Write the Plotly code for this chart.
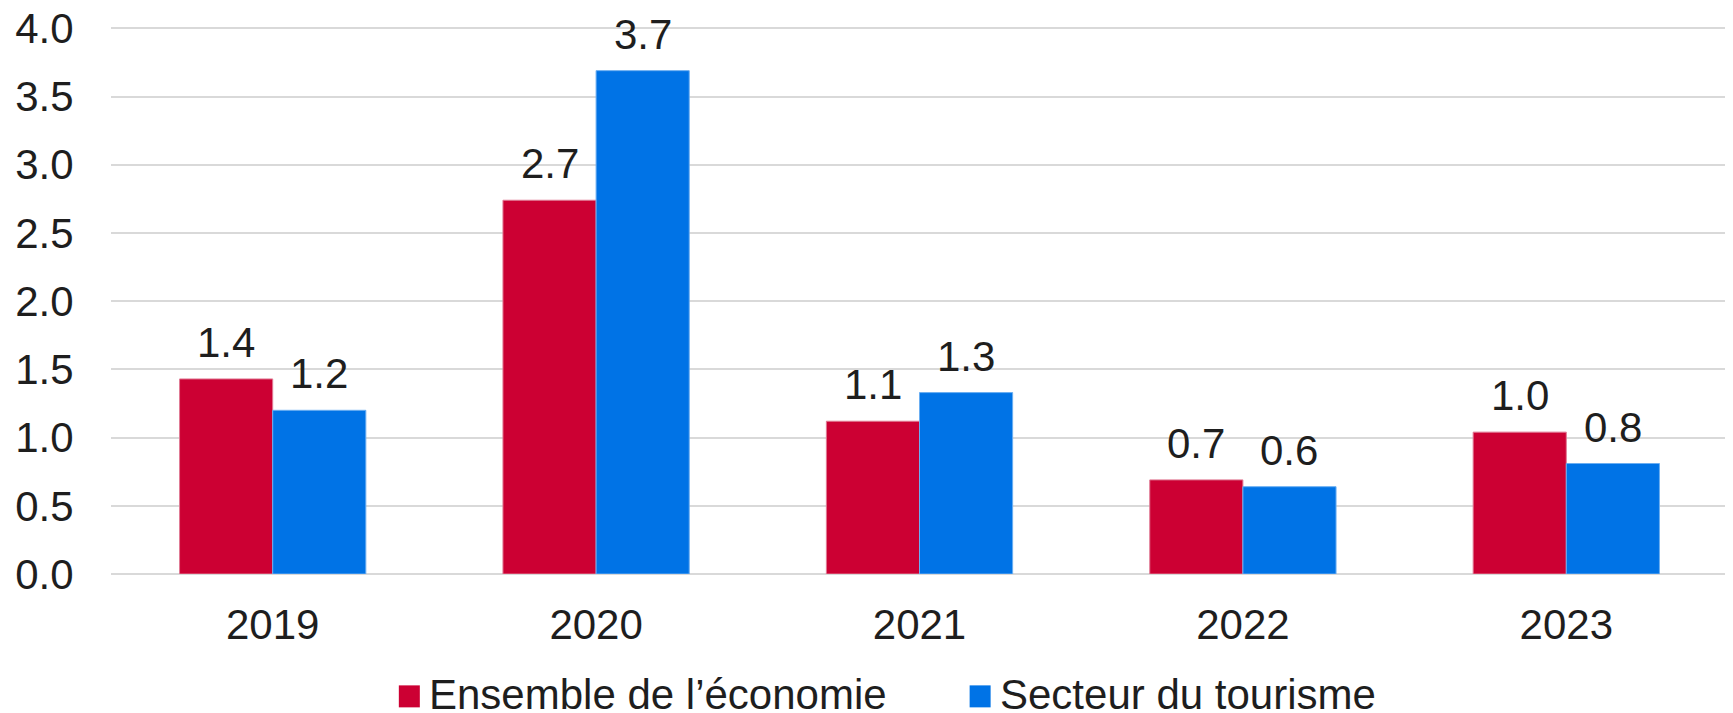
import plotly.graph_objects as go

years = ["2019", "2020", "2021", "2022", "2023"]
ensemble = [1.43, 2.74, 1.12, 0.69, 1.04]
tourisme = [1.20, 3.69, 1.33, 0.64, 0.81]
series_names = ["Ensemble de l’économie", "Secteur du tourisme"]
y_ticks = [0, 0.5, 1.0, 1.5, 2.0, 2.5, 3.0, 3.5, 4.0]

RED = "#CC0033"
BLUE = "#0073E6"
TXT = "#1e1e1e"
FONT = "Liberation Sans, Arial, sans-serif"
FS = 42

fig = go.Figure()
fig.add_trace(go.Bar(x=years, y=ensemble, name=series_names[0], marker_color=RED,
                     marker_line=dict(color="#e07a94", width=1)))
fig.add_trace(go.Bar(x=years, y=tourisme, name=series_names[1], marker_color=BLUE,
                     marker_line=dict(color="#6aaef2", width=1)))

# value labels above each bar (x = category index, so the axis doesn't read "2019" as a number)
half_bar = 46.5
for i, (a, b) in enumerate(zip(ensemble, tourisme)):
    for val, shift in ((a, -half_bar), (b, half_bar)):
        fig.add_annotation(
            x=i, y=val, text=f"{val:.1f}", showarrow=False,
            xshift=shift, yshift=11, yanchor="bottom",
            font=dict(size=FS, color=TXT, family=FONT),
        )

# custom legend (squares + text)
legend_items = [(series_names[0], RED, 0.178), (series_names[1], BLUE, 0.531)]
for name, col, px in legend_items:
    fig.add_shape(
        type="rect", xref="paper", yref="paper",
        x0=px, x1=px + 21 / 1617, y0=-0.2438, y1=-0.2036,
        fillcolor=col, line_width=0,
    )
    fig.add_annotation(
        xref="paper", yref="paper", x=px + 29 / 1617, y=-0.221,
        text=name, showarrow=False, xanchor="left", yanchor="middle",
        borderpad=0, font=dict(size=FS, color=TXT, family=FONT),
    )

# page body has an 8px margin, so the plot is shifted up/left by that much
fig.update_layout(
    width=1725, height=713,
    margin=dict(l=103, r=5, t=19, b=147, autoexpand=False),
    paper_bgcolor="white", plot_bgcolor="white",
    barmode="group", bargap=0.424, bargroupgap=0,
    showlegend=False,
    font=dict(family=FONT, size=FS, color=TXT),
)
fig.update_yaxes(
    range=[0, 4.01], tickvals=y_ticks, tickformat=".1f",
    showgrid=True, gridcolor="#d9d9d9", gridwidth=1.5,
    zeroline=True, zerolinecolor="#d9d9d9", zerolinewidth=1.5,
    ticks="outside", ticklen=28, tickcolor="rgba(0,0,0,0)", showline=False,
    ticklabeloverflow="allow",
)
fig.update_xaxes(type="category", range=[-0.5, 4.5], ticks="outside", ticklen=14,
                 tickcolor="rgba(0,0,0,0)", showline=False)

fig.write_html("out.html")
